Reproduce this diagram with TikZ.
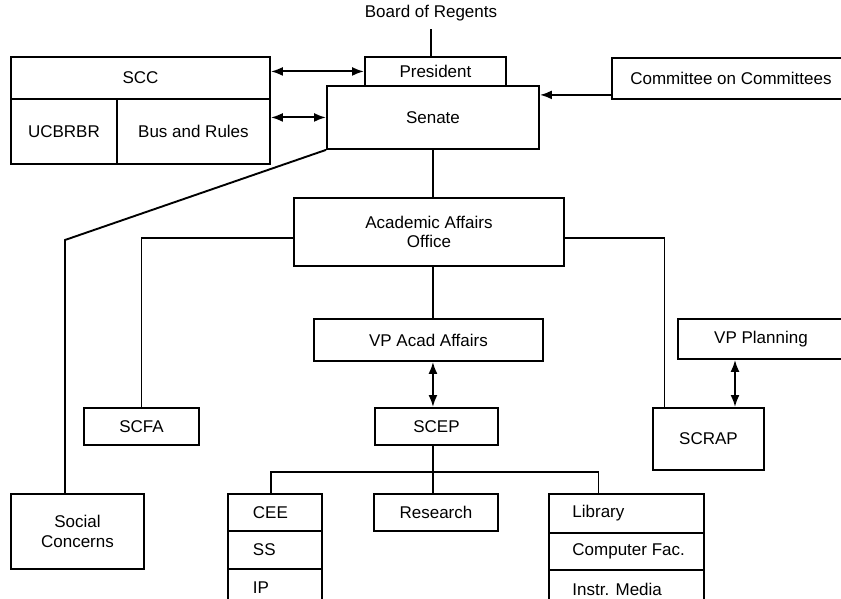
\documentclass[tikz,border=0pt]{standalone}
\usepackage{fontspec}
\setmainfont{Liberation Sans}
\usetikzlibrary{arrows.meta}
\begin{document}
\begin{tikzpicture}[x=1pt,y=-1pt,
  every node/.style={font=\fontsize{17}{19.5}\selectfont},
  box/.style={draw, line width=1.9pt, inner sep=0pt, anchor=north west, align=center},
  ln/.style={line width=1.9pt},
  tip/.tip={Latex[length=12pt,width=9pt]},
  arr/.style={ln, tip-tip},
  arrone/.style={ln, -tip}
]
\useasboundingbox (0,0) rectangle (841,599);
\clip (0,0) rectangle (841,599);

\node[inner sep=0pt] (bor) at (431,13) {Board of Regents};
\node[box, minimum width=141pt, minimum height=29pt] (pres) at (364,56) {President};
\node[box, minimum width=212pt, minimum height=63pt] (sen) at (326,85) {Senate};

\node[box, minimum width=259pt, minimum height=42pt] (scc) at (10,56) {SCC};
\node[box, minimum width=106pt, minimum height=65pt] (ucb) at (10,98) {UCBRBR};
\node[box, minimum width=153pt, minimum height=65pt] (bus) at (116,98) {Bus and Rules};

\node[box, minimum width=238pt, minimum height=41pt] (com) at (611,57) {Committee on Committees};

\node[box, minimum width=270pt, minimum height=68pt] (aao) at (293,197) {Academic Affairs\\Office};
\node[box, minimum width=229pt, minimum height=42pt] (vpaa) at (313,318) {VP Acad Affairs};
\node[box, minimum width=166pt, minimum height=40pt] (vpp) at (677,318) {VP Planning};

\node[box, minimum width=115pt, minimum height=37pt] (scfa) at (83,407) {SCFA};
\node[box, minimum width=123pt, minimum height=37pt] (scep) at (374,407) {SCEP};
\node[box, minimum width=111pt, minimum height=62pt] (scrap) at (652,407) {SCRAP};

\node[box, minimum width=133pt, minimum height=75pt] (soc) at (10,493) {Social\\Concerns};

\node[box, minimum width=94pt, minimum height=37pt] (cee) at (227,493) {\makebox[44pt][l]{CEE}};
\node[box, minimum width=94pt, minimum height=38pt] (ss) at (227,530) {\makebox[44pt][l]{SS}};
\node[box, minimum width=94pt, minimum height=38pt] (ip) at (227,568) {\makebox[44pt][l]{IP}};

\node[box, minimum width=124pt, minimum height=37pt] (res) at (373,493) {Research};

\node[box, minimum width=155pt, minimum height=39pt] (lib) at (548,493) {\makebox[108pt][l]{Library}};
\node[box, minimum width=155pt, minimum height=37pt] (cf) at (548,532) {\makebox[108pt][l]{Computer Fac.}};
\node[box, minimum width=155pt, minimum height=38pt] (im) at (548,569) {\makebox[108pt][l]{Instr. Media}};

% connectors
\draw[ln] ([yshift=-8pt]bor.south) -- (bor.south |- pres.north);
\draw[arr] (scc.east |- pres.west) -- (pres.west);
\draw[arr] (bus.east |- sen.west) -- (sen.west);
\draw[arrone] ([yshift=5pt]com.south west) -- ([yshift=5pt]com.south west -| sen.east);
\draw[ln] (sen.south) -- (sen.south |- aao.north);
\draw[ln] ([yshift=-6pt]aao.west) -| (scfa.north);
\draw[ln] ([yshift=-6pt]aao.east) -| ([xshift=-44pt]scrap.north);
\draw[ln] (aao.south -| sen.south) -- (vpaa.north -| sen.south);
\draw[arr] (vpaa.south -| sen.south) -- (scep.north -| sen.south);
\draw[arr] ([xshift=58pt]vpp.south west) -- ([xshift=58pt]vpp.south west |- scrap.north);

\coordinate (sbend) at (65,240);
\draw[ln] (sen.south west) -- (sbend) -- (sbend |- soc.north);

\coordinate (busy) at (0,472);
\draw[ln] (scep.south -| sen.south) -- (res.north -| sen.south);
\draw[ln] ([xshift=-4pt]cee.north) |- ([xshift=-28pt]lib.north |- busy) -- ([xshift=-28pt]lib.north);
\end{tikzpicture}
\end{document}
